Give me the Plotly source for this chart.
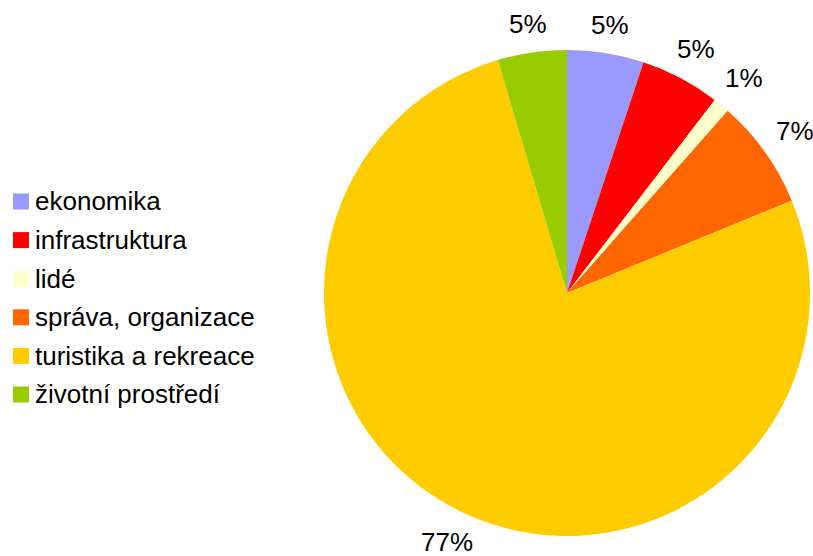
import math
import plotly.graph_objects as go

categories = ["ekonomika", "infrastruktura", "lidé", "správa, organizace",
              "turistika a rekreace", "životní prostředí"]
shares = [5.1, 5.3, 1.1, 7.3, 76.6, 4.6]
colors = ["#9999FF", "#FF0000", "#FFFFCC", "#FF6600", "#FFCC00", "#99CC00"]

W, H = 813, 556
FONT = "Arial, Liberation Sans, sans-serif"
FS = 26

# pie geometry (pixels)
CX, CY, R = 567, 293, 243

fig = go.Figure()
fig.add_trace(go.Pie(
    labels=categories,
    values=shares,
    sort=False,
    direction="clockwise",
    rotation=0,
    marker=dict(colors=colors, line=dict(width=0)),
    textinfo="none",
    domain=dict(x=[(CX - R) / W, (CX + R) / W], y=[(H - CY - R) / H, (H - CY + R) / H]),
    showlegend=False,
    hoverinfo="label+percent",
))

annotations = []
shapes = []

# percentage labels outside the pie, placed from each slice's mid angle
total = sum(shares)
cum = 0.0
for v in shares:
    mid = (cum + v / 2) / total
    cum += v
    th = 2 * math.pi * mid
    txt = f"{round(100 * v / total)}%"
    w = FS * (0.556 * (len(txt) - 1) + 0.889)
    h = FS * 0.75
    d = R + 16 + abs(math.sin(th)) * w / 2 + abs(math.cos(th)) * h / 2
    px = CX + d * math.sin(th)
    py = min(CY - d * math.cos(th), H - 14)
    annotations.append(dict(text=txt, xref="paper", yref="paper",
                            x=px / W, y=1 - py / H,
                            xanchor="center", yanchor="middle", showarrow=False,
                            font=dict(family=FONT, size=FS, color="#000000")))

# Legend drawn from the category / colour lists
row0 = 201.5
step = 38.6
for i, (name, col) in enumerate(zip(categories, colors)):
    yc = row0 + i * step
    shapes.append(dict(type="rect", xref="paper", yref="paper",
                       x0=13 / W, x1=29 / W,
                       y0=(H - (yc + 8)) / H, y1=(H - (yc - 8)) / H,
                       fillcolor=col, line=dict(width=0)))
    annotations.append(dict(text=name, xref="paper", yref="paper",
                            x=33 / W, y=(H - yc) / H,
                            xanchor="left", yanchor="middle", showarrow=False,
                            font=dict(family=FONT, size=FS, color="#000000")))

fig.update_layout(
    width=W, height=H,
    margin=dict(l=0, r=0, t=0, b=0),
    paper_bgcolor="white",
    plot_bgcolor="white",
    shapes=shapes,
    annotations=annotations,
)

fig.write_html("out.html",
               config={"displayModeBar": False},
               post_script="document.body.style.margin='0';document.body.style.overflow='hidden';")
